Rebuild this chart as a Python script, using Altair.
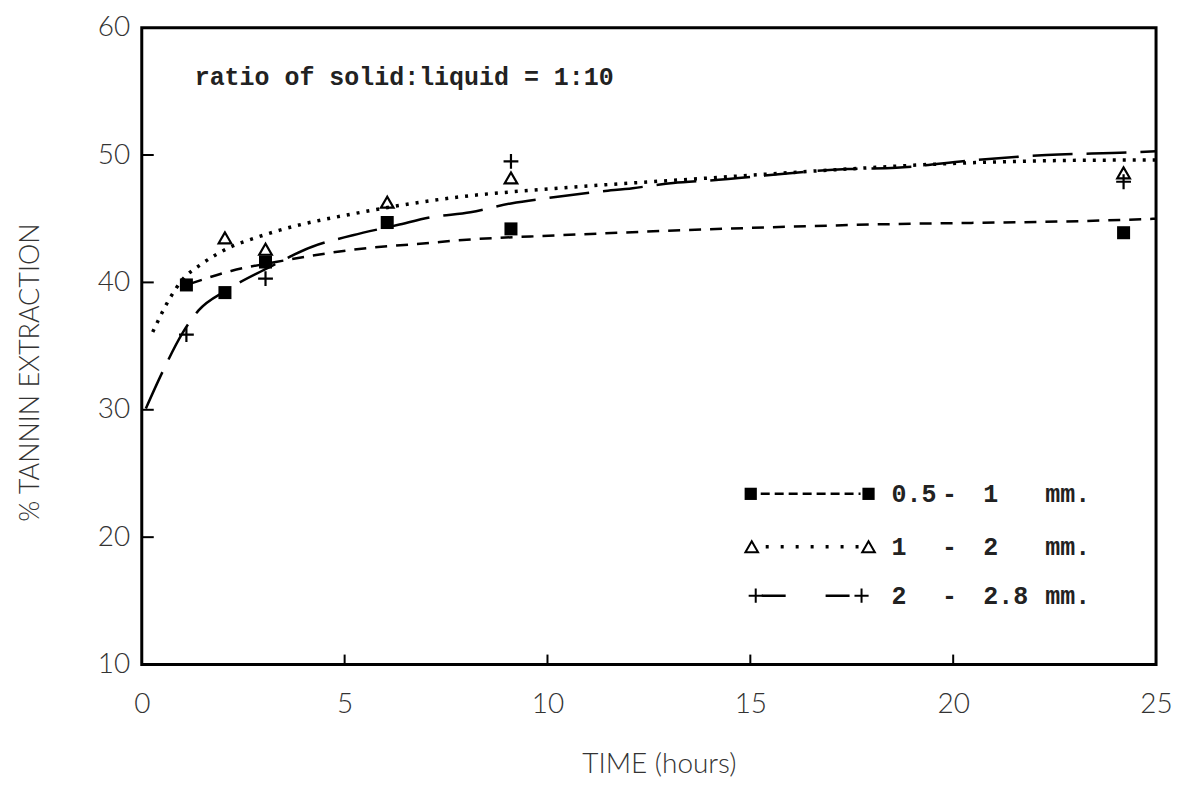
import altair as alt
import pandas as pd

# ---- axis ticks ----
x_ticks = [0, 5, 10, 15, 20, 25]
y_ticks = [10, 20, 30, 40, 50, 60]

sq_t = [1.1, 2.05, 3.05, 6.05, 9.1, 24.2]
sq_v = [39.8, 39.2, 41.6, 44.7, 44.2, 43.9]
tri_t = [2.05, 3.05, 6.05, 9.1, 24.2]
tri_v = [43.5, 42.6, 46.3, 48.2, 48.6]
plus_t = [1.1, 3.05, 9.1, 24.2]
plus_v = [35.9, 40.3, 49.5, 47.9]

# ---- fitted curves ----
fit_sq_t = [1.2, 2.2, 3.3, 4.6, 5.3, 7.1, 7.8, 10.3, 17.4, 24.1, 25]
fit_sq_v = [39.9, 40.9, 41.6, 42.3, 42.6, 43.1, 43.3, 43.7, 44.5, 44.9, 45.0]
fit_tri_t = [0.27, 0.7, 1.0, 1.5, 2.2, 2.8, 3.4, 5.4, 7.8, 10.3, 14.0, 17.4, 19.7, 24.1, 25]
fit_tri_v = [36.1, 38.8, 40.2, 41.5, 42.8, 43.5, 44.1, 45.5, 46.7, 47.4, 48.2, 48.9, 49.3, 49.6, 49.6]
fit_plus_t = [0.1, 0.5, 1.0, 1.4, 2.1, 3.15, 4.2, 5.2, 6.3, 7.1, 8.1, 9.1, 10.2, 11.2,
              12.1, 13.1, 14.0, 17.4, 18.6, 20.5, 22.3, 24.3, 25]
fit_plus_v = [30.1, 32.9, 36.0, 37.8, 39.4, 41.2, 42.8, 43.7, 44.5, 45.1, 45.5, 46.2, 46.7, 47.1,
              47.4, 47.8, 48.0, 48.9, 49.0, 49.6, 50.0, 50.2, 50.3]

# ---- texts ----
annotation = "ratio of solid:liquid = 1:10"
leg_lo = ["0.5", "1", "2"]
leg_hi = ["1", "2", "2.8"]
leg_unit = "mm."
x_title = "TIME  (hours)"
y_title = "% TANNIN EXTRACTION"

W, H = 1016, 638
PLUS = "M-1,0L1,0M0,-1L0,1"
MONO = "Liberation Mono"
SANS = "Lato"

xs = alt.Scale(domain=[0, 25], nice=False)
ys = alt.Scale(domain=[10, 60], nice=False)

xax = alt.Axis(values=x_ticks, tickSize=0, domain=False, grid=False, labelFont=SANS,
               labelFontWeight=300, labelFontSize=28, labelColor="#333", labelPadding=26,
               labelFlush=False,
               title=x_title, titleFont=SANS, titleFontWeight=300, titleFontSize=28,
               titleColor="#333", titleX=518, titleY=100, titleBaseline="middle")
yax = alt.Axis(values=y_ticks, tickSize=0, domain=False, grid=False, labelFont=SANS,
               labelFontWeight=300, labelFontSize=28, labelColor="#333", labelPadding=12,
               labelFlush=False,
               title=y_title, titleFont=SANS, titleFontWeight=300, titleFontSize=27,
               titleColor="#333", titleX=-111, titleY=345, titleBaseline="middle",
               titleAngle=270)


def curve(t, v, dash, width):
    df = pd.DataFrame({"t": t, "v": v})
    return alt.Chart(df).mark_line(color="black", strokeDash=dash, strokeWidth=width,
                                   interpolate="monotone").encode(
        x=alt.X("t:Q", scale=xs, axis=xax), y=alt.Y("v:Q", scale=ys, axis=yax))


def pts(t, v, **kw):
    df = pd.DataFrame({"t": t, "v": v})
    return alt.Chart(df).mark_point(color="black", opacity=1, **kw).encode(
        x=alt.X("t:Q", scale=xs), y=alt.Y("v:Q", scale=ys))


layers = []
layers.append(curve(fit_sq_t, fit_sq_v, [12, 9], 2.5))
layers.append(curve(fit_tri_t, fit_tri_v, [3, 7], 3.5))
layers.append(curve(fit_plus_t, fit_plus_v, [40, 14], 2.5))
layers.append(pts(tri_t, tri_v, shape="triangle-up", filled=False, size=160, strokeWidth=2.2))
layers.append(pts(plus_t, plus_v, shape=PLUS, filled=False, size=220, strokeWidth=2.2))
layers.append(pts(sq_t, sq_v, shape="square", filled=True, size=170))

# inward ticks
xt = pd.DataFrame({"t": x_ticks[1:-1]})
layers.append(alt.Chart(xt).mark_rule(color="black", strokeWidth=2).encode(
    x=alt.X("t:Q", scale=xs), y=alt.value(H), y2=alt.value(H - 10)))
yt = pd.DataFrame({"v": y_ticks[1:-1]})
layers.append(alt.Chart(yt).mark_rule(color="black", strokeWidth=2).encode(
    y=alt.Y("v:Q", scale=ys), x=alt.value(0), x2=alt.value(12)))

one = pd.DataFrame({"a": [0]})

# annotation
layers.append(alt.Chart(one).mark_text(text=annotation, font=MONO, fontWeight="bold",
                                       fontSize=25, align="left", baseline="middle",
                                       color="#222").encode(x=alt.value(53), y=alt.value(49)))

# legend
rows_y = [467, 520, 569]
sym_x = [(610, 728), (611, 728), (615, 721)]
for i in range(3):
    y = rows_y[i]
    x1, x2 = sym_x[i]
    if i == 0:
        layers.append(alt.Chart(one).mark_rule(color="black", strokeWidth=2.5, strokeDash=[9, 5]).encode(
            x=alt.value(x1 + 10), x2=alt.value(x2 - 8), y=alt.value(y)))
        for xx in (x1, x2):
            layers.append(alt.Chart(one).mark_point(shape="square", filled=True, size=150,
                                                    color="black", opacity=1).encode(
                x=alt.value(xx), y=alt.value(y)))
    elif i == 1:
        layers.append(alt.Chart(one).mark_rule(color="black", strokeWidth=3.5, strokeDash=[3, 12]).encode(
            x=alt.value(x1 + 14), x2=alt.value(x2 - 8), y=alt.value(y)))
        for xx in (x1, x2):
            layers.append(alt.Chart(one).mark_point(shape="triangle-up", filled=False, size=160,
                                                    strokeWidth=2, color="black", opacity=1).encode(
                x=alt.value(xx), y=alt.value(y)))
    else:
        layers.append(alt.Chart(one).mark_rule(color="black", strokeWidth=2.5, strokeDash=[24, 40]).encode(
            x=alt.value(x1 + 6), x2=alt.value(x2), y=alt.value(y)))
        for xx in (x1, x2):
            layers.append(alt.Chart(one).mark_point(shape=PLUS, filled=False, size=200,
                                                    strokeWidth=2, color="black", opacity=1).encode(
                x=alt.value(xx), y=alt.value(y)))
    txt = dict(font=MONO, fontWeight="bold", fontSize=25, baseline="middle", color="#222")
    layers.append(alt.Chart(one).mark_text(text=leg_lo[i], align="left", **txt).encode(
        x=alt.value(751), y=alt.value(y)))
    layers.append(alt.Chart(one).mark_text(text="-", align="center", **txt).encode(
        x=alt.value(809), y=alt.value(y)))
    layers.append(alt.Chart(one).mark_text(text=leg_hi[i], align="left", **txt).encode(
        x=alt.value(843), y=alt.value(y)))
    layers.append(alt.Chart(one).mark_text(text=leg_unit, align="left", **txt).encode(
        x=alt.value(905), y=alt.value(y)))

chart = alt.layer(*layers).properties(
    width=W, height=H,
    autosize=alt.AutoSizeParams(type="none"),
    padding={"left": 134, "top": 19, "right": 25, "bottom": 128},
    background="white",
).configure_view(stroke="black", strokeWidth=3)

chart.save("out.html", embed_options={"renderer": "svg", "actions": False})
